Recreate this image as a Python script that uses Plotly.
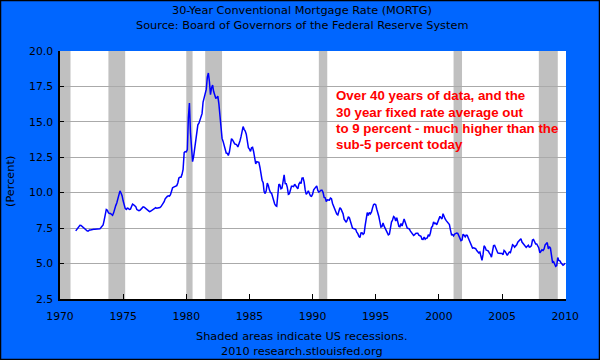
import pandas as pd
import plotly.graph_objects as go

# Monthly 30-year conventional mortgage rate (percent), Apr 1971 - Jan 2010
rates_1970s = [
    7.31, 7.43, 7.53, 7.60, 7.70, 7.69, 7.63, 7.55, 7.48,                       # 1971 Apr-Dec
    7.44, 7.32, 7.29, 7.29, 7.37, 7.37, 7.40, 7.40, 7.42, 7.42, 7.43, 7.44,     # 1972
    7.44, 7.44, 7.46, 7.54, 7.65, 7.73, 8.05, 8.50, 8.82, 8.77, 8.58, 8.54,     # 1973
    8.54, 8.46, 8.41, 8.58, 8.97, 9.09, 9.28, 9.59, 9.96, 10.13, 9.98, 9.79,    # 1974
    9.43, 9.10, 8.89, 8.82, 8.91, 8.89, 8.82, 8.84, 9.01, 9.20, 9.15, 9.10,     # 1975
    9.02, 8.81, 8.76, 8.73, 8.76, 8.85, 8.93, 9.00, 8.98, 8.92, 8.81, 8.79,     # 1976
    8.72, 8.67, 8.69, 8.75, 8.83, 8.86, 8.94, 8.94, 8.90, 8.92, 8.92, 8.96,     # 1977
    9.02, 9.15, 9.20, 9.36, 9.57, 9.71, 9.74, 9.78, 9.76, 9.86, 10.11, 10.35,   # 1978
    10.39, 10.41, 10.43, 10.50, 10.69, 11.04, 11.09, 11.09, 11.30, 11.64, 12.83, 12.90,  # 1979
]
rates_1980s = [
    12.88, 13.04, 15.28, 16.32, 14.26, 12.71, 12.19, 12.56, 13.20, 13.79, 14.21, 14.79,  # 1980
    14.90, 15.13, 15.40, 15.58, 16.40, 16.70, 16.83, 17.29, 18.16, 18.45, 17.83, 16.92,  # 1981
    17.40, 17.60, 17.16, 16.89, 16.68, 16.70, 16.82, 16.27, 15.43, 14.61, 13.83, 13.62,  # 1982
    13.25, 13.04, 12.80, 12.78, 12.63, 12.87, 13.42, 13.81, 13.73, 13.54, 13.44, 13.42,  # 1983
    13.37, 13.23, 13.39, 13.65, 13.94, 14.42, 14.67, 14.47, 14.35, 14.13, 13.64, 13.18,  # 1984
    13.08, 12.92, 13.17, 13.20, 12.91, 12.22, 12.03, 12.19, 12.19, 12.14, 11.78, 11.26,  # 1985
    10.88, 10.71, 10.08, 9.94, 10.14, 10.68, 10.51, 10.20, 10.01, 9.98, 9.70, 9.32,      # 1986
    9.20, 9.08, 9.04, 9.83, 10.60, 10.54, 10.28, 10.33, 10.89, 11.26, 10.65, 10.64,      # 1987
    10.38, 9.89, 9.93, 10.20, 10.46, 10.46, 10.43, 10.60, 10.48, 10.30, 10.27, 10.61,    # 1988
    10.73, 10.65, 11.03, 11.05, 10.77, 10.20, 9.88, 9.99, 10.13, 9.95, 9.77, 9.74,       # 1989
]
rates_1990s = [
    9.90, 10.20, 10.27, 10.37, 10.48, 10.16, 10.04, 10.10, 10.18, 10.18, 10.01, 9.67,    # 1990
    9.64, 9.37, 9.50, 9.49, 9.47, 9.62, 9.58, 9.24, 9.01, 8.86, 8.71, 8.50,              # 1991
    8.43, 8.76, 8.94, 8.85, 8.67, 8.51, 8.13, 7.98, 7.92, 8.09, 8.31, 8.22,              # 1992
    8.02, 7.68, 7.50, 7.47, 7.47, 7.42, 7.21, 7.11, 6.92, 6.83, 7.16, 7.17,              # 1993
    7.06, 7.15, 7.68, 8.32, 8.60, 8.40, 8.61, 8.51, 8.64, 8.93, 9.17, 9.20,              # 1994
    9.15, 8.83, 8.46, 8.32, 7.96, 7.57, 7.61, 7.86, 7.64, 7.48, 7.38, 7.20,              # 1995
    7.03, 7.08, 7.62, 7.93, 8.07, 8.32, 8.25, 8.00, 8.23, 7.92, 7.62, 7.60,              # 1996
    7.82, 7.65, 7.90, 8.14, 7.94, 7.69, 7.50, 7.48, 7.43, 7.29, 7.21, 7.10,              # 1997
    6.99, 7.04, 7.13, 7.14, 7.14, 7.00, 6.95, 6.92, 6.72, 6.71, 6.87, 6.72,              # 1998
    6.79, 6.81, 7.04, 6.92, 7.15, 7.55, 7.63, 7.94, 7.82, 7.85, 7.74, 7.91,              # 1999
]
rates_2000s = [
    8.21, 8.33, 8.24, 8.15, 8.52, 8.29, 8.15, 8.03, 7.91, 7.80, 7.75, 7.38,              # 2000
    7.03, 7.05, 6.95, 7.08, 7.15, 7.16, 7.13, 6.95, 6.82, 6.62, 6.66, 7.07,              # 2001
    7.00, 6.89, 7.01, 6.99, 6.81, 6.65, 6.49, 6.29, 6.09, 6.11, 6.07, 6.05,              # 2002
    5.92, 5.84, 5.75, 5.81, 5.48, 5.23, 5.63, 6.26, 6.15, 5.95, 5.93, 5.88,              # 2003
    5.74, 5.64, 5.45, 5.83, 6.27, 6.29, 6.06, 5.87, 5.75, 5.72, 5.73, 5.75,              # 2004
    5.71, 5.63, 5.93, 5.86, 5.72, 5.58, 5.70, 5.82, 5.77, 6.07, 6.33, 6.27,              # 2005
    6.15, 6.25, 6.32, 6.51, 6.60, 6.68, 6.76, 6.52, 6.40, 6.36, 6.24, 6.14,              # 2006
    6.22, 6.29, 6.16, 6.18, 6.26, 6.66, 6.70, 6.57, 6.38, 6.38, 6.21, 6.10,              # 2007
    5.76, 5.92, 5.97, 5.92, 6.04, 6.32, 6.43, 6.48, 6.04, 6.20, 6.09, 5.33,              # 2008
    5.06, 5.13, 5.00, 4.81, 4.86, 5.42, 5.22, 5.19, 5.06, 4.95, 4.88, 4.93,              # 2009
    5.03,                                                                                # 2010 Jan
]
first_month = "1971-04-01"

recession_starts = ["1970-01-01", "1973-11-01", "1980-01-01", "1981-07-01", "1990-07-01", "2001-03-01", "2007-12-01"]
recession_ends   = ["1970-11-01", "1975-03-01", "1980-07-01", "1982-11-01", "1991-03-01", "2001-11-01", "2009-06-01"]

x_tick_labels = ["1970", "1975", "1980", "1985", "1990", "1995", "2000", "2005", "2010"]
y_tick_values = [2.5, 5.0, 7.5, 10.0, 12.5, 15.0, 17.5, 20.0]

title_lines = ["30-Year Conventional Mortgage Rate (MORTG)",
               "Source: Board of Governors of the Federal Reserve System"]
footer_lines = ["Shaded areas indicate US recessions.", "2010 research.stlouisfed.org"]
note_lines = ["Over 40 years of data, and the", "30 year fixed rate average out",
              "to 9 percent - much higher than the", "sub-5 percent today"]

rates = rates_1970s + rates_1980s + rates_1990s + rates_2000s
dates = pd.date_range(first_month, periods=len(rates), freq="MS")

W, H = 600, 360
L, R, T, B = 60, 34, 51, 61
PW, PH = W - L - R, H - T - B

def px_x(px):
    return (px - L) / PW

def px_y(py):
    return (H - B - py) / PH

FONT = "DejaVu Sans"
TXT = "#000000"
TEXT_SIZE = 11.3

fig = go.Figure()
fig.add_trace(go.Scatter(x=dates, y=rates, mode="lines",
                         line=dict(color="#0000FF", width=1.5), hoverinfo="skip"))

shapes = []
for s, e in zip(recession_starts, recession_ends):
    shapes.append(dict(type="rect", xref="x", yref="paper", x0=s, x1=e, y0=0, y1=1,
                       fillcolor="#C0C0C0", line=dict(width=0), layer="below"))
# outer border
shapes.append(dict(type="rect", xref="paper", yref="paper",
                   x0=px_x(0.5), x1=px_x(599.5), y0=px_y(359.5), y1=px_y(0.5),
                   line=dict(color="#000000", width=1.5), fillcolor="rgba(0,0,0,0)"))

annotations = []
for line, py in zip(title_lines, [11, 25]):
    annotations.append(dict(text=line, xref="paper", yref="paper", x=px_x(302), y=px_y(py),
                            xanchor="center", yanchor="middle", showarrow=False,
                            font=dict(family=FONT, size=TEXT_SIZE, color=TXT)))
for line, py in zip(footer_lines, [336, 351]):
    annotations.append(dict(text=line, xref="paper", yref="paper", x=px_x(302), y=px_y(py),
                            xanchor="center", yanchor="middle", showarrow=False,
                            font=dict(family=FONT, size=TEXT_SIZE, color=TXT)))
annotations.append(dict(text="(Percent)", xref="paper", yref="paper", x=px_x(10), y=px_y(182),
                        xanchor="center", yanchor="middle", textangle=-90, showarrow=False,
                        font=dict(family=FONT, size=TEXT_SIZE, color=TXT)))
for line, py in zip(note_lines, [96, 112.3, 128.5, 144.5]):
    annotations.append(dict(text=line, xref="paper", yref="paper",
                            x=px_x(334), y=px_y(py), xanchor="left", yanchor="middle",
                            align="left", showarrow=False,
                            font=dict(family="Liberation Sans", size=13.3, color="#FF0000",
                                      weight="bold")))

fig.update_layout(
    width=W, height=H,
    margin=dict(l=L, r=R, t=T, b=B, pad=0),
    paper_bgcolor="#0066FF", plot_bgcolor="#FFFFFF",
    showlegend=False,
    shapes=shapes, annotations=annotations,
)
fig.update_xaxes(
    range=["1970-01-01", "2010-01-25"],
    tickvals=[f"{y}-01-01" for y in x_tick_labels], ticktext=x_tick_labels,
    ticks="inside", ticklen=5, tickcolor="#000000", tickwidth=1,
    showgrid=False, zeroline=False,
    showline=True, linecolor="#000000", linewidth=1.5,
    ticklabelstandoff=6,
    tickfont=dict(family=FONT, size=10.8, color=TXT),
)
fig.update_yaxes(
    range=[2.5, 20.0], tickvals=y_tick_values, tickformat=".1f",
    ticks="inside", ticklen=4, tickcolor="#000000", tickwidth=1,
    showgrid=True, gridcolor="#AAAAAA", gridwidth=1, zeroline=False,
    showline=True, linecolor="#000000", linewidth=1.5,
    ticklabelstandoff=3,
    tickfont=dict(family=FONT, size=10.8, color=TXT),
)

fig.write_html("out.html", config={"displayModeBar": False},
               post_script="document.body.style.margin='0';document.body.style.overflow='hidden';")
